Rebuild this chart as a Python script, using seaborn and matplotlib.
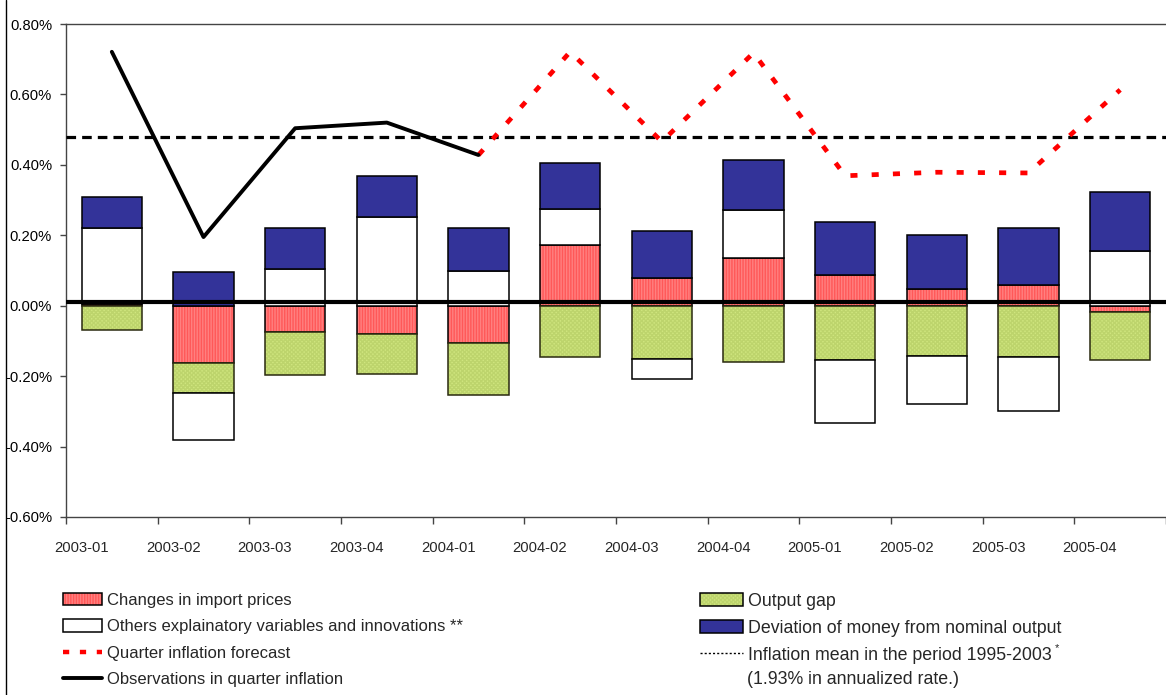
import numpy as np
import pandas as pd
import matplotlib
matplotlib.use("Agg")
import matplotlib.pyplot as plt
import seaborn as sns
from matplotlib.patches import Patch
from matplotlib.lines import Line2D
from matplotlib.ticker import FuncFormatter

# ---------------- data (percent, quarterly) ----------------
quarters = ["2003-01", "2003-02", "2003-03", "2003-04", "2004-01", "2004-02",
            "2004-03", "2004-04", "2005-01", "2005-02", "2005-03", "2005-04"]
import_prices = [0.005, -0.164, -0.076, -0.079, -0.107, 0.172, 0.080, 0.136, 0.087, 0.047, 0.060, -0.017]
output_gap = [-0.069, -0.083, -0.121, -0.115, -0.147, -0.145, -0.150, -0.161, -0.155, -0.142, -0.146, -0.138]
others = [0.215, -0.133, 0.103, 0.253, 0.099, 0.104, -0.057, 0.136, -0.177, -0.138, -0.153, 0.156]
money = [0.089, 0.095, 0.117, 0.116, 0.121, 0.130, 0.133, 0.142, 0.151, 0.154, 0.160, 0.166]
obs_quarters = ["2003-01", "2003-02", "2003-03", "2003-04", "2004-01"]
observed = [0.721, 0.195, 0.504, 0.520, 0.428]
fc_quarters = ["2004-01", "2004-02", "2004-03", "2004-04", "2005-01", "2005-02", "2005-03", "2005-04"]
forecast = [0.428, 0.721, 0.466, 0.718, 0.369, 0.379, 0.377, 0.613]
mean_rate = 0.48
zero_ref = 0.011
yticks = [-0.6, -0.4, -0.2, 0.0, 0.2, 0.4, 0.6, 0.8]

# ---------------- style ----------------
sns.set_theme(style="white")
plt.rcParams['font.family'] = ['Liberation Sans', 'DejaVu Sans']
plt.rcParams['hatch.linewidth'] = 1.0
FS_TICK = 10.6
FS_LEG_L = 12.0
FS_LEG_R = 12.8

RED = "#FF8080"
RED_H = "#FF5858"
GREEN = "#CFE57E"
GREEN_H = "#BDD46C"
BLUE = "#333399"

W, H = 1166, 695
fig = plt.figure(figsize=(W / 100, H / 100), dpi=100)
ax = fig.add_axes([66 / W, (H - 517) / H, (W - 66) / W, (517 - 24) / H])

# stacking (positive and negative separately, series order)
series = [("import", import_prices), ("gap", output_gap), ("others", others), ("money", money)]
pos = np.zeros(len(quarters))
neg = np.zeros(len(quarters))
bottoms = {}
for name, vals in series:
    v = np.array(vals)
    b = np.where(v >= 0, pos, neg)
    bottoms[name] = b
    pos = pos + np.where(v >= 0, v, 0)
    neg = neg + np.where(v < 0, v, 0)

bw = 0.66
common = dict(x=quarters, width=bw, errorbar=None, saturation=1, ax=ax, zorder=2)
# import prices (hatched red)
sns.barplot(y=import_prices, bottom=bottoms["import"], color=RED, edgecolor=RED_H,
            linewidth=0, hatch="||||||", **common)
sns.barplot(y=import_prices, bottom=bottoms["import"], fill=False, color="black",
            edgecolor="black", linewidth=1.1, **common)
# output gap (fine hatched green)
sns.barplot(y=output_gap, bottom=bottoms["gap"], color=GREEN, edgecolor=GREEN_H,
            linewidth=0, hatch="xxxxxxxx", **common)
sns.barplot(y=output_gap, bottom=bottoms["gap"], fill=False, color="black",
            edgecolor="#2a2a10", linewidth=1.1, **common)
# others (white)
sns.barplot(y=others, bottom=bottoms["others"], color="white", edgecolor="black",
            linewidth=1.1, **common)
# money (blue)
sns.barplot(y=money, bottom=bottoms["money"], color=BLUE, edgecolor="black",
            linewidth=1.1, **common)

# reference lines
ax.axhline(zero_ref, color="black", lw=3.0, zorder=4)
ax.axhline(mean_rate, color="black", lw=2.3, linestyle=(0, (3.0, 1.9)), dash_capstyle="butt", zorder=3)

# observed and forecast lines
obs_x = [quarters.index(q) for q in obs_quarters]
fc_x = [quarters.index(q) for q in fc_quarters]
sns.lineplot(x=fc_x, y=forecast, color="red", lw=3.4, linestyle=(0, (1.5, 3.0)),
             dash_capstyle="butt", ax=ax, zorder=5, sort=False)
sns.lineplot(x=obs_x, y=observed, color="black", lw=2.8, ax=ax, zorder=6, sort=False)

# axes formatting
step_px = 92.7
ax.set_xlim(-0.5, -0.5 + (W - 66) / step_px)
ax.set_ylim(-0.6, 0.8)
ax.set_yticks(yticks)
ax.yaxis.set_major_formatter(FuncFormatter(lambda v, p: f"{v:.2f}%"))
ax.tick_params(axis="y", which="major", length=4, width=1, direction="out", left=True,
               labelsize=FS_TICK, pad=6.0, colors="black", color="#444444")
ax.set_xticks(np.arange(len(quarters)) - 0.5 + 0.17, labels=quarters)
ax.set_xticks(np.arange(len(quarters) + 1) - 0.5, minor=True)
ax.tick_params(axis="x", which="major", length=0, labelsize=FS_TICK, pad=17)
ax.tick_params(axis="x", which="minor", length=5, width=1, direction="out", bottom=True, color="#444444")
ax.set_xlabel("")
ax.set_ylabel("")
for s in ["left", "bottom", "top"]:
    ax.spines[s].set_visible(True)
    ax.spines[s].set_color("#444444")
    ax.spines[s].set_linewidth(1.0)
ax.spines["right"].set_visible(False)
ax.grid(False)

# left figure border
fig.add_artist(Line2D([6 / W, 6 / W], [0, 1], transform=fig.transFigure, color="black", lw=1.0))

# legends
h_red = (Patch(facecolor=RED, edgecolor=RED_H, hatch="||||||", linewidth=0),
         Patch(facecolor="none", edgecolor="black", linewidth=1.1))
h_white = Patch(facecolor="white", edgecolor="black", linewidth=1.1)
h_fc = Line2D([], [], color="red", lw=3.2, linestyle=(0, (1.4, 2.4)), dash_capstyle="butt")
h_obs = Line2D([], [], color="black", lw=2.8)
h_green = (Patch(facecolor=GREEN, edgecolor=GREEN_H, hatch="xxxxxxxx", linewidth=0),
           Patch(facecolor="none", edgecolor="black", linewidth=1.1))
h_blue = Patch(facecolor=BLUE, edgecolor="black", linewidth=1.1)
h_mean = Line2D([], [], color="black", lw=1.0, linestyle=(0, (1.5, 1.5)))

leg_kw = dict(frameon=False, handleheight=0.75, borderpad=0, borderaxespad=0,
              loc="upper left")
leg1 = fig.legend([h_red, h_white, h_fc, h_obs],
                  ["Changes in import prices", "Others explainatory variables and innovations **",
                   "Quarter inflation forecast", "Observations in quarter inflation"],
                  bbox_to_anchor=(63 / W, 1 - 593 / H), fontsize=FS_LEG_L,
                  handlelength=39 / (FS_LEG_L * 100 / 72), handletextpad=5 / (FS_LEG_L * 100 / 72),
                  labelspacing=0.68, **leg_kw)
leg2 = fig.legend([h_green, h_blue, h_mean],
                  ["Output gap", "Deviation of money from nominal output",
                   "Inflation mean in the period 1995-2003"],
                  bbox_to_anchor=(700 / W, 1 - 593 / H), fontsize=FS_LEG_R,
                  handlelength=43 / (FS_LEG_R * 100 / 72), handletextpad=5 / (FS_LEG_R * 100 / 72),
                  labelspacing=0.55, **leg_kw)
fig.text(1055 / W, 1 - 651 / H, "*", fontsize=8, ha="left", va="baseline")
fig.text(747 / W, 1 - 679 / H, "(1.93% in annualized rate.)", fontsize=FS_LEG_R, ha="left", va="center")

fig.savefig("out.png", dpi=100)
